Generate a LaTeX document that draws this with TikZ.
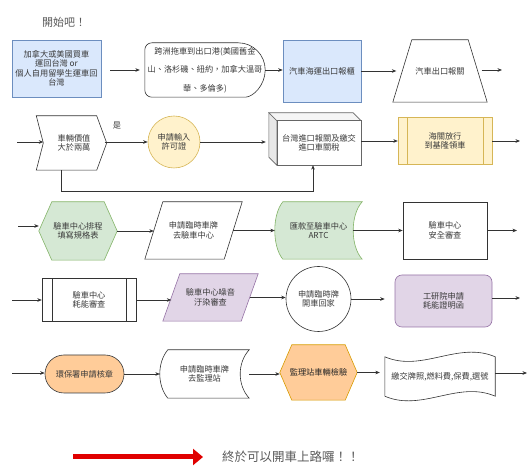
\documentclass[tikz,border=0pt]{standalone}
\usepackage{fontspec}
\setmainfont{Noto Sans CJK TC}
\usetikzlibrary{calc,backgrounds,arrows.meta}
\definecolor{blueF}{HTML}{DAE8FC}
\definecolor{blueD}{HTML}{6C8EBF}
\definecolor{yelF}{HTML}{FFF2CC}
\definecolor{yelD}{HTML}{D6B656}
\definecolor{grnF}{HTML}{D5E8D4}
\definecolor{grnD}{HTML}{82B366}
\definecolor{purF}{HTML}{E1D5E7}
\definecolor{purD}{HTML}{9673A6}
\definecolor{orgF}{HTML}{FFCC99}
\definecolor{orgD}{HTML}{D79B00}
\definecolor{darkD}{HTML}{36393D}
\definecolor{txtC}{HTML}{3A3A3A}
\definecolor{lineC}{HTML}{333333}
\definecolor{redA}{HTML}{E00000}
\definecolor{greyT}{HTML}{5A5A5A}

\newcommand\HexShape[3]{\draw[#3] (#1.west) -- ($(#1.north west)+(#2,0)$) -- ($(#1.north east)+(-#2,0)$) -- (#1.east) -- ($(#1.south east)+(-#2,0)$) -- ($(#1.south west)+(#2,0)$) -- cycle;}
\newcommand\ParaShape[3]{\draw[#3] ($(#1.north west)+(#2,0)$) -- ($(#1.north east)+(#2,0)$) -- ($(#1.south east)+(-#2,0)$) -- ($(#1.south west)+(-#2,0)$) -- cycle;}
\newcommand\StoredShape[2]{\draw[#2] ($(#1.north west)+(8,0)$) -- (#1.north east) .. controls ($(#1.north east)+(-12,13)$) and ($(#1.south east)+(-12,-13)$) .. (#1.south east) -- ($(#1.south west)+(8,0)$) .. controls ($(#1.south west)+(-2.7,-13)$) and ($(#1.north west)+(-2.7,13)$) .. ($(#1.north west)+(8,0)$) -- cycle;}
\newcommand\ProcShape[3]{\draw[#3] (#1.north west) rectangle (#1.south east);
  \draw[#3] ($(#1.north west)+(#2,0)$) -- ($(#1.south west)+(#2,0)$);
  \draw[#3] ($(#1.north east)+(-#2,0)$) -- ($(#1.south east)+(-#2,0)$);}

\begin{document}
\begin{tikzpicture}[x=1pt,y=-1pt,
  txt/.style={text=txtC, font=\fontsize{8.2}{9.5}\selectfont, align=center, inner sep=0pt},
  sh/.style={draw=lineC, line width=0.6pt, fill=white},
  blueS/.style={draw=blueD, fill=blueF, line width=0.6pt},
  yelS/.style={draw=yelD, fill=yelF, line width=0.6pt},
  grnS/.style={draw=grnD, fill=grnF, line width=0.6pt},
  purS/.style={draw=purD, fill=purF, line width=0.6pt},
  orgS/.style={draw=orgD, fill=orgF, line width=0.6pt},
  cubeS/.style={draw=black!60, line width=0.6pt},
  arr/.style={draw=lineC, line width=0.6pt, -{Stealth[length=4.5pt,width=3.6pt]}},
  big/.style={text=greyT, inner sep=0pt}]
\useasboundingbox (0,0) rectangle (531,470);

% ---------- row 1
\node[big, font=\fontsize{11}{13}\selectfont] (t0) at (64,22) {開始吧！};
\node[txt, blueS, minimum width=89pt, minimum height=57pt] (n1) at (56.5,68.5) {加拿大或美國買車\\運回台灣 or\\個人自用留學生運車回\\台灣};
\node[txt, font=\fontsize{8.2}{18.5}\selectfont, minimum width=120pt, minimum height=54pt] (n2) at (205,70) {跨洲拖車到出口港(美國舊金\\山、洛杉磯、紐約，加拿大溫哥\\華、多倫多)};
\node[txt, blueS, minimum width=78pt, minimum height=62pt] (n3) at (322,71) {汽車海運出口報櫃};
\node[txt, minimum width=75pt, minimum height=62pt] (n4) at (440,71) {汽車出口報關};
\coordinate (e1) at (502,70);

% ---------- row 2
\coordinate (s2) at (17,142);
\node[txt, minimum width=61pt, minimum height=54pt] (n5) at (74,143) {車輛價值\\大於兩萬};
\node[txt] (lbl) at (117,126) {是};
\node[txt, yelS, circle, minimum size=52pt] (n6) at (174,142) {申請輸入\\許可證};
\node[txt, minimum width=84pt, minimum height=44pt] (n7) at (319,143) {台灣進口報關及繳交\\進口車關稅};
\node[txt, minimum width=94pt, minimum height=46pt] (n8) at (445,141) {海關放行\\到基隆領車};
\coordinate (e2) at (520,141);

% ---------- row 3
\coordinate (s3) at (18,226);
\node[txt, minimum width=78pt, minimum height=58pt] (n9) at (78,231) {驗車中心排程\\填寫規格表};
\node[txt, minimum width=79pt, minimum height=57pt] (n10) at (193.5,230.5) {申請臨時車牌\\去驗車中心};
\node[txt, minimum width=87pt, minimum height=57pt] (n11) at (318.5,230.5) {匯款至驗車中心\\ARTC};
\node[txt, sh, minimum width=84pt, minimum height=57pt] (n12) at (445,230.5) {驗車中心\\安全審查};
\coordinate (e3) at (517,231);

% ---------- row 4
\coordinate (s4) at (12,300);
\node[txt, minimum width=94pt, minimum height=42pt] (n13) at (89,300) {驗車中心\\耗能審查};
\node[txt, minimum width=78pt, minimum height=47pt] (n14) at (210.5,297.5) {驗車中心噪音\\汙染審查};
\node[txt, sh, circle, minimum size=65pt] (n15) at (318.5,299) {申請臨時牌\\開車回家};
\node[txt, purS, rounded corners=7pt, minimum width=97pt, minimum height=52pt] (n16) at (443.5,301) {工研院申請\\耗能證明函};
\coordinate (e4) at (520,298);

% ---------- row 5
\coordinate (s5) at (12,373);
\node[txt, draw=darkD, fill=orgF, line width=0.6pt, rounded corners=19pt, minimum width=79pt, minimum height=38pt] (n17) at (84.5,374) {環保署申請核章};
\node[txt, minimum width=89pt, minimum height=48pt] (n18) at (204.5,374) {申請臨時車牌\\去監理站};
\node[txt, text=black!85, minimum width=77pt, minimum height=55pt] (n19) at (318.5,372.5) {監理站車輛檢驗};
\node[txt, minimum width=110pt, minimum height=47pt] (n20) at (440,376.5) {繳交牌照,燃料費,保費,選號};
\coordinate (e5) at (527,373);

% ---------- bottom
\coordinate (r1) at (73,457);
\coordinate (r2) at (203,457);
\node[big, anchor=west, font=\fontsize{12.5}{14}\selectfont] (t1) at (222,457) {終於可以開車上路囉！！};

% ---------- outlines of custom shapes
\begin{scope}[on background layer]
  % display shape
  \draw[sh, rounded corners=7pt] ($(n2.north east)+(-27,0)$) -- (n2.north west) -- (n2.south west) -- ($(n2.south east)+(-27,0)$) [sharp corners]
     .. controls ($(n2.south east)+(-12,0)$) and ($(n2.east)+(0,15)$) .. (n2.east)
     .. controls ($(n2.east)+(0,-15)$) and ($(n2.north east)+(-12,0)$) .. ($(n2.north east)+(-27,0)$) -- cycle;
  % trapezoid
  \draw[sh] ($(n4.north west)+(9.5,0)$) -- ($(n4.north east)+(-9.5,0)$) -- ($(n4.south east)+(9.5,0)$) -- ($(n4.south west)+(-9.5,0)$) -- cycle;
  % chevron
  \draw[sh] ($(n5.north west)+(-7,0)$) -- ($(n5.north east)+(-8,0)$) -- ($(n5.east)+(2,0)$) -- ($(n5.south east)+(-8,0)$) -- ($(n5.south west)+(-7,0)$) -- (n5.west) -- cycle;
  % cube
  \draw[cubeS, fill=gray!8] (n7.north west) -- ++(-8,-8) -- ($(n7.north east)+(-8,-8)$) -- (n7.north east) -- cycle;
  \draw[cubeS, fill=gray!18] (n7.north west) -- ++(-8,-8) -- ($(n7.south west)+(-8,-8)$) -- (n7.south west) -- cycle;
  \draw[cubeS, fill=white] (n7.north west) rectangle (n7.south east);
  % process shapes
  \ProcShape{n8}{9}{yelS}
  \ProcShape{n13}{10}{sh}
  % hexagons
  \HexShape{n9}{13}{grnS}
  \HexShape{n19}{12}{orgS}
  % parallelograms
  \ParaShape{n10}{9}{sh}
  \ParaShape{n14}{8.5}{purS}
  % stored data
  \StoredShape{n11}{grnS}
  \StoredShape{n18}{sh}
  % tape
  \draw[sh] ($(n20.north west)+(0,4)$) .. controls ($(n20.north)+(-18,20)$) and ($(n20.north)+(18,-12)$) .. ($(n20.north east)+(0,4)$)
     -- ($(n20.south east)+(0,-4)$) .. controls ($(n20.south)+(18,-20)$) and ($(n20.south)+(-18,12)$) .. ($(n20.south west)+(0,-4)$) -- cycle;
\end{scope}

% ---------- connectors
\draw[arr, shorten <=9pt, shorten >=5pt] (n1.east |- n2.west) -- (n2.west);
\draw[arr] (n2.east) -- (n2.east -| n3.west);
\draw[arr, shorten >=6pt] (n3.east) -- (n4.west);
\draw[arr, shorten <=4pt] (n4.east |- e1) -- (e1);

\draw[arr] (s2) -- (s2 -| n5.west);
\draw[arr] (n5.east |- n6.west) -- (n6.west);
\draw[arr, shorten >=11pt] (n6.east) -- (n6.east -| n7.west);
\draw[arr] ($(n5.south)+(-13,0)$) -- ++(0,21) -| ($(n7.south)+(-6,0)$);
\draw[arr] (n7.east |- n8.west) -- (n8.west);
\draw[arr] (n8.east) -- (e2);

\draw[arr] (s3) -- (s3 -| n9.west);
\draw[arr] (n9.east) -- (n9.east -| n10.west);
\draw[arr] (n10.east) -- (n10.east -| n11.west);
\draw[arr] ($(n11.east)+(-9,0)$) -- (n12.west |- n11.east);
\draw[arr] (n12.east) -- (e3 |- n12.east);

\draw[arr] (s4) -- (s4 -| n13.west);
\draw[arr] (n13.east) -- (n13.east -| n14.west);
\draw[arr] (n14.east) -- (n14.east -| n15.west);
\draw[arr, shorten >=10pt] (n15.east) -- (n15.east -| n16.west);
\draw[arr] (n16.east |- e4) -- (e4);

\draw[arr] (s5) -- (s5 -| n17.west);
\draw[arr] (n17.east) -- (n17.east -| n18.west);
\draw[arr] (n18.east) -- (n18.east -| n19.west);
\draw[arr, shorten >=5pt] (n19.east) -- (n19.east -| n20.west);
\draw[arr] (n20.east |- e5) -- (e5);

\draw[line width=5pt, draw=redA, -{Triangle[length=10pt,width=16pt]}] (r1) -- (r2);
\end{tikzpicture}
\end{document}
